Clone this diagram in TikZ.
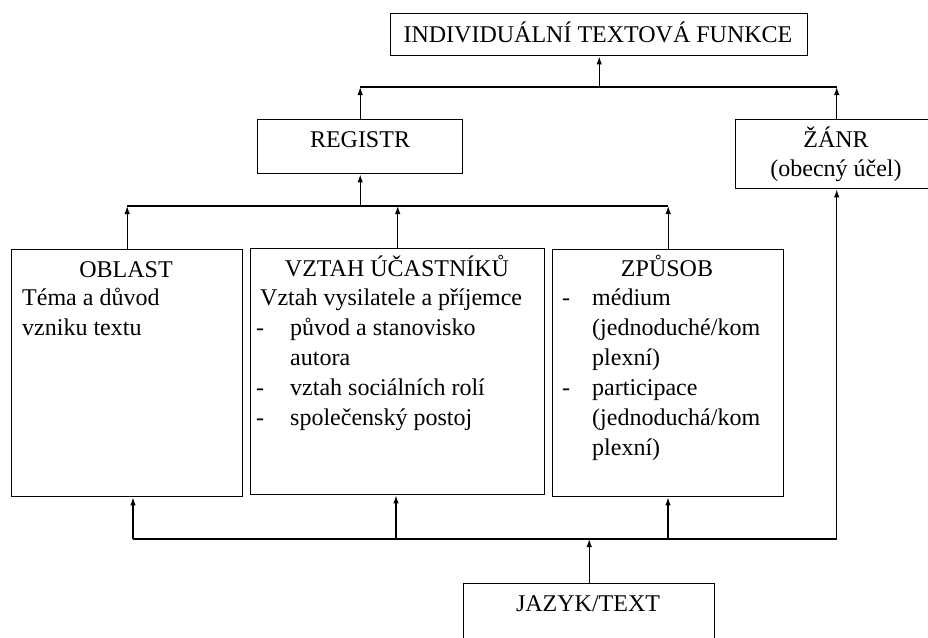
\documentclass[tikz,border=0pt]{standalone}
\usepackage{fontspec}
\setmainfont{Liberation Serif}
\usetikzlibrary{arrows.meta}
\begin{document}
\begin{tikzpicture}[x=1pt,y=-1pt,
  box/.style={draw, line width=1.4pt, inner sep=0pt, anchor=north west},
  txt/.style={inner sep=0pt, font=\fontsize{24}{30}\selectfont},
  ln/.style={line width=1.2pt},
  arr/.style={ln, -{Latex[length=8pt,width=5.5pt]}}]
\useasboundingbox (0,0) rectangle (928,637);
\clip (0,0) rectangle (928,637);
% boxes
\node[box, minimum width=417pt, minimum height=42pt] (top) at (390,13) {};
\node[box, minimum width=205pt, minimum height=54pt] (reg) at (257,119) {};
\node[box, minimum width=202pt, minimum height=69pt] (zanr) at (735,119) {};
\node[box, minimum width=231pt, minimum height=247pt] (obl) at (11,249) {};
\node[box, minimum width=294pt, minimum height=246pt] (vzt) at (250,248) {};
\node[box, minimum width=231pt, minimum height=247pt] (zpu) at (552,249) {};
\node[box, minimum width=251pt, minimum height=80pt] (jaz) at (463,583) {};
% texts
\node[txt, anchor=base] (ttop) at (598,42) {INDIVIDUÁLNÍ TEXTOVÁ FUNKCE};
\node[txt, anchor=base] (treg) at (360,147) {REGISTR};
\node[txt, anchor=base] (tzanr) at (836,147) {ŽÁNR};
\node[txt, anchor=base] (tzanr2) at (836,176) {(obecný účel)};
\node[txt, anchor=base] (tobl) at (126,277) {OBLAST};
\node[txt, anchor=base west] (tobl1) at (22,305) {Téma a důvod};
\node[txt, anchor=base west] (tobl2) at (22,335) {vzniku textu};
\node[txt, anchor=base] (tvzt) at (397,276) {VZTAH ÚČASTNÍKŮ};
\node[txt, anchor=base west] (tvzt1) at (260,305) {Vztah vysilatele a příjemce};
\node[txt, anchor=base west] (dv1) at (256,335) {-};
\node[txt, anchor=base west] (tvzt2) at (290,335) {původ a stanovisko};
\node[txt, anchor=base west] (tvzt3) at (290,365) {autora};
\node[txt, anchor=base west] (dv2) at (256,395) {-};
\node[txt, anchor=base west] (tvzt4) at (290,395) {vztah sociálních rolí};
\node[txt, anchor=base west] (dv3) at (256,425) {-};
\node[txt, anchor=base west] (tvzt5) at (290,425) {společenský postoj};
\node[txt, anchor=base] (tzpu) at (667,276) {ZPŮSOB};
\node[txt, anchor=base west] (dz1) at (562,305) {-};
\node[txt, anchor=base west] (tzpu1) at (592,305) {médium};
\node[txt, anchor=base west] (tzpu2) at (592,335) {(jednoduché/kom};
\node[txt, anchor=base west] (tzpu3) at (592,365) {plexní)};
\node[txt, anchor=base west] (dz2) at (562,395) {-};
\node[txt, anchor=base west] (tzpu4) at (592,395) {participace};
\node[txt, anchor=base west] (tzpu5) at (592,425) {(jednoduchá/kom};
\node[txt, anchor=base west] (tzpu6) at (592,455) {plexní)};
\node[txt, anchor=base] (tjaz) at (588,611) {JAZYK/TEXT};
% connectors level 1
\coordinate (j1) at (598,87);
\draw[arr] (reg.north) -- (reg.north |- j1);
\draw[arr] (zanr.north) -- (zanr.north |- j1);
\draw[ln] (reg.north |- j1) -- (zanr.north |- j1);
\draw[arr] (top.south |- j1) -- (top.south);
% level 2
\coordinate (j2) at (0,206);
\draw[arr] (obl.north) -- (obl.north |- j2);
\draw[arr] (vzt.north) -- (vzt.north |- j2);
\draw[arr] (zpu.north) -- (zpu.north |- j2);
\draw[ln] (obl.north |- j2) -- (zpu.north |- j2);
\draw[arr] (reg.south |- j2) -- (reg.south);
% level 3
\coordinate (b1) at (133,539);
\coordinate (b2) at (396,539);
\coordinate (b3) at (668,539);
\draw[arr] (b1) -- (b1 |- obl.south);
\draw[arr] (b2) -- (b2 |- vzt.south);
\draw[arr] (b3) -- (b3 |- zpu.south);
\draw[arr] (b1) -- (zanr.south |- b1) -- (zanr.south);
\draw[arr] (jaz.north) -- (jaz.north |- b1);
\end{tikzpicture}
\end{document}
